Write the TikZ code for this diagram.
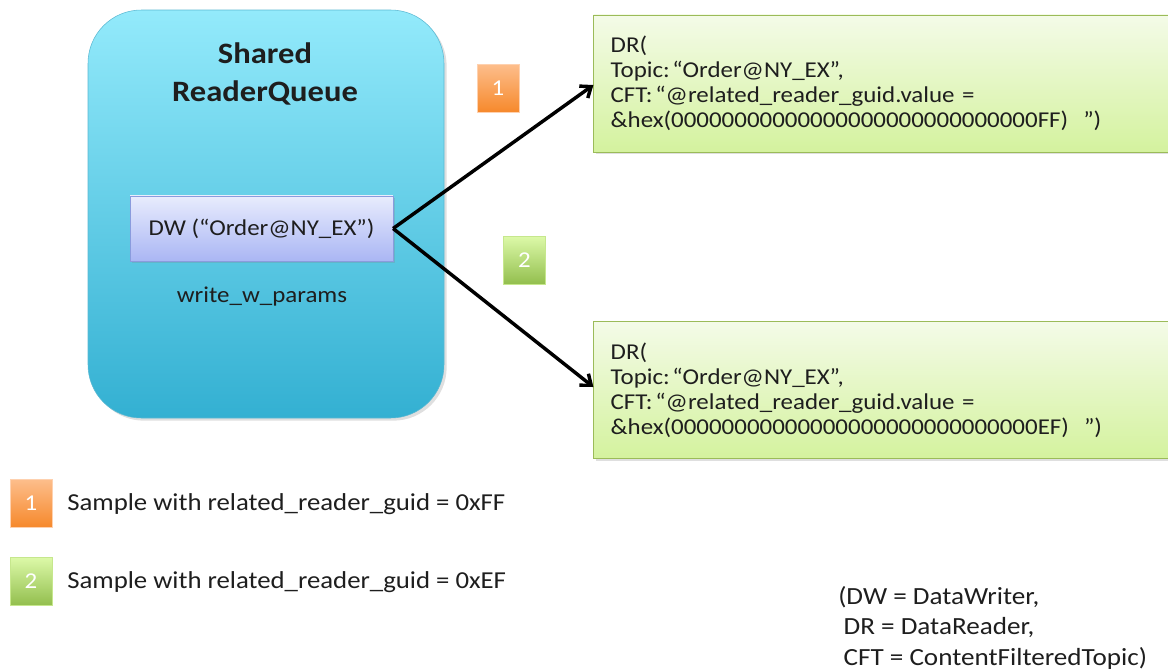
\documentclass[tikz,border=0pt]{standalone}
\usepackage{fontspec}
\setmainfont{Carlito}[FakeStretch=1.1]
\usetikzlibrary{arrows.meta,shadows}
\definecolor{qtop}{HTML}{93EAFB}
\definecolor{qbot}{HTML}{33B0D2}
\definecolor{qline}{HTML}{5AB8D2}
\definecolor{wtop}{HTML}{E8ECFD}
\definecolor{wbot}{HTML}{AAB6F4}
\definecolor{wline}{HTML}{8A9BDD}
\definecolor{rtop}{HTML}{F4FBE8}
\definecolor{rbot}{HTML}{D4F29E}
\definecolor{rline}{HTML}{9BBB59}
\definecolor{otop}{HTML}{FDBE8C}
\definecolor{obot}{HTML}{F6892C}
\definecolor{gtop}{HTML}{DCF9A8}
\definecolor{gbot}{HTML}{92BE4D}
\definecolor{ink}{HTML}{1E1E1E}
\begin{document}
\begin{tikzpicture}[x=0.75pt,y=-0.75pt,
  every node/.style={font=\fontsize{17}{18.75}\selectfont,text=ink},
  queuebox/.style={draw=qline,rounded corners=40pt,top color=qtop,bottom color=qbot,
    minimum width=267pt,minimum height=306pt,
    drop shadow={opacity=0.25,shadow xshift=2pt,shadow yshift=-2pt}},
  writerbox/.style={draw=wline,top color=wtop,bottom color=wbot,
    minimum width=197pt,minimum height=49pt,
    drop shadow={opacity=0.25,shadow xshift=1.5pt,shadow yshift=-1.5pt}},
  readerbox/.style={draw=rline,top color=rtop,bottom color=rbot,
    minimum width=435pt,minimum height=103pt,text width=410pt,align=left,
    inner xsep=12.75pt,
    drop shadow={opacity=0.25,shadow xshift=1.5pt,shadow yshift=-1.5pt}},
  legendtext/.style={anchor=west,inner sep=0pt,font=\fontsize{18.25}{22}\selectfont},
  badge/.style={minimum width=31.5pt,minimum height=36pt,inner sep=0pt,text=white},
  onebadge/.style={badge,draw=otop!70!white,top color=otop,bottom color=obot},
  twobadge/.style={badge,draw=gtop!70!gbot,top color=gtop,bottom color=gbot},
  flow/.style={-{Straight Barb[length=7pt,width=11pt,line width=2.6pt]},line width=2.6pt,black}]
\useasboundingbox (0,0) rectangle (1168,671);
% queue and writer
\node[queuebox] (queue) at (266,214) {};
\node[font=\fontsize{22.2}{28.5}\selectfont\bfseries,align=center] (title) at (265,74) {Shared\\ReaderQueue};
\node[writerbox] (dw) at (261.5,228.5) {DW (“Order@NY\_EX”)};
\node (wparams) at (262,297) {write\_w\_params};
% readers
\node[readerbox] (dr1) at (884,83.5) {DR(\\Topic:\hspace{0.12em}“Order@NY\_EX”,\\CFT:\hspace{0.12em}“@related\_reader\_guid.value =\\\&hex(00000000000000000000000000000FF)~~”)};
\node[readerbox] (dr2) at (884,390) {DR(\\Topic:\hspace{0.12em}“Order@NY\_EX”,\\CFT:\hspace{0.12em}“@related\_reader\_guid.value =\\\&hex(00000000000000000000000000000EF)~~”)};
\draw[flow] (dw.east) -- (dr1.west|-0,85);
\draw[flow] (dw.east) -- (dr2.west|-0,387);
% badges
\node[onebadge] (b1) at (498,88) {1};
\node[twobadge] (b2) at (524.5,260.5) {2};
% legend
\node[onebadge] (l1) at (31,503) {1};
\node[twobadge] (l2) at (31,581.5) {2};
\node[legendtext] (t1) at (67,504) {Sample with related\_reader\_guid = 0xFF};
\node[legendtext] (t2) at (67,582) {Sample with related\_reader\_guid = 0xEF};
\node[anchor=north west,align=left,inner sep=0pt,font=\fontsize{18.5}{23}\selectfont] (note) at (838,586)
  {(DW = DataWriter,\\\hspace*{4pt}DR = DataReader,\\\hspace*{4pt}CFT = ContentFilteredTopic)};
\end{tikzpicture}
\end{document}
